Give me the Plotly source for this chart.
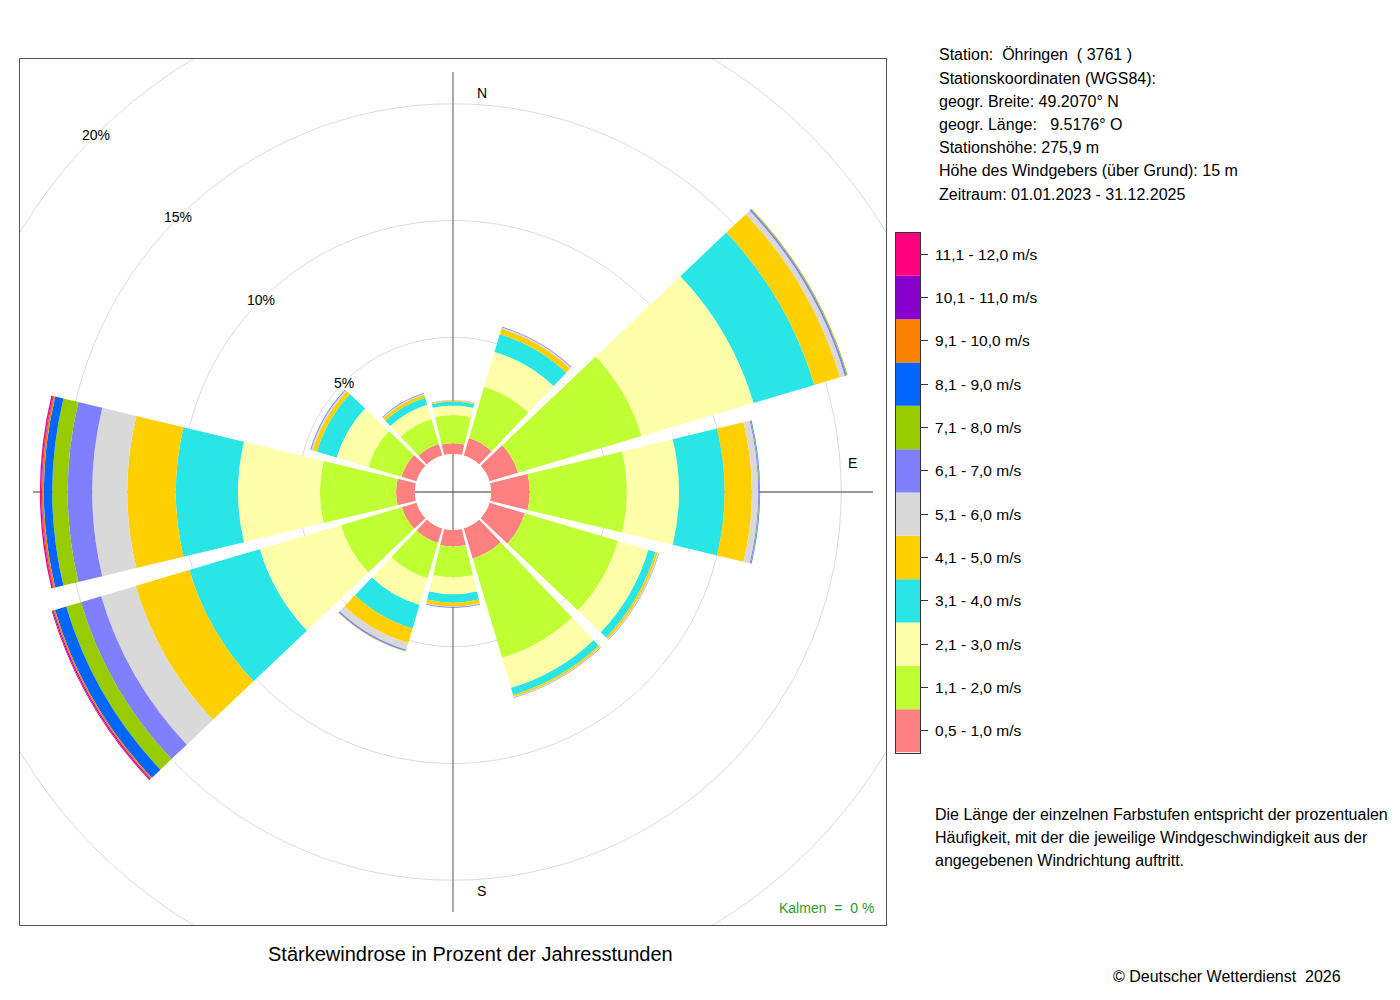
import math
import plotly.graph_objects as go

# ---------------- data ----------------
directions = [0, 30, 60, 90, 120, 150, 180, 210, 240, 270, 300, 330]

speed_labels = ["0,5 - 1,0 m/s", "1,1 - 2,0 m/s", "2,1 - 3,0 m/s", "3,1 - 4,0 m/s",
                "4,1 - 5,0 m/s", "5,1 - 6,0 m/s", "6,1 - 7,0 m/s", "7,1 - 8,0 m/s",
                "8,1 - 9,0 m/s", "9,1 - 10,0 m/s", "10,1 - 11,0 m/s", "11,1 - 12,0 m/s"]

speed_colors = ["#FF8080", "#BFFF33", "#FFFFAA", "#2AE5E5", "#FFD000", "#D9D9D9",
                "#8080FF", "#99CC00", "#0066FF", "#F88200", "#8800CC", "#FF0080"]

# percent of hours per speed class, over the 12 directions (N, 30, 60, ... 330)
v_0_5_1 = [0.46, 0.78, 1.28, 1.66, 1.58, 1.34, 0.71, 0.64, 0.66, 0.81, 0.68, 0.52]
v_1_2 = [1.21, 2.29, 5.52, 4.16, 4.17, 4.44, 1.32, 1.58, 2.72, 3.26, 1.48, 1.11]
v_2_3 = [0.41, 1.56, 5.00, 2.23, 1.35, 1.34, 0.72, 1.20, 3.62, 3.51, 1.41, 0.64]
v_3_4 = [0.17, 0.79, 2.71, 1.95, 0.32, 0.32, 0.36, 1.05, 3.15, 2.66, 0.88, 0.31]
v_4_5 = [0.04, 0.24, 1.15, 1.17, 0.10, 0.08, 0.16, 0.65, 2.40, 2.08, 0.19, 0.14]
v_5_6 = [0.01, 0.06, 0.22, 0.27, 0.04, 0.03, 0.03, 0.30, 1.54, 1.50, 0.07, 0.04]
v_6_7 = [0.01, 0.03, 0.08, 0.04, 0.02, 0.02, 0.04, 0.06, 0.90, 1.05, 0.04, 0.03]
v_7_8 = [0.00, 0.00, 0.04, 0.02, 0.00, 0.00, 0.00, 0.02, 0.66, 0.66, 0.00, 0.00]
v_8_9 = [0.00, 0.00, 0.00, 0.02, 0.00, 0.00, 0.00, 0.00, 0.50, 0.36, 0.00, 0.00]
v_9_10 = [0.00, 0.00, 0.00, 0.00, 0.00, 0.00, 0.00, 0.00, 0.07, 0.08, 0.00, 0.00]
v_10_11 = [0.00, 0.00, 0.00, 0.00, 0.00, 0.00, 0.00, 0.00, 0.04, 0.03, 0.00, 0.00]
v_11_12 = [0.00, 0.00, 0.00, 0.00, 0.00, 0.00, 0.00, 0.00, 0.04, 0.06, 0.00, 0.00]

series = [v_0_5_1, v_1_2, v_2_3, v_3_4, v_4_5, v_5_6, v_6_7, v_7_8,
          v_8_9, v_9_10, v_10_11, v_11_12]

ring_values = [5, 10, 15, 20]
ring_labels = ["5%", "10%", "15%", "20%"]

station_lines = [
    "Station:\u00a0 Öhringen\u00a0 ( 3761 )",
    "Stationskoordinaten (WGS84):",
    "geogr. Breite: 49.2070° N",
    "geogr. Länge:\u00a0\u00a0 9.5176° O",
    "Stationshöhe: 275,9 m",
    "Höhe des Windgebers (über Grund): 15 m",
    "Zeitraum: 01.01.2023 - 31.12.2025",
]
note_lines = [
    "Die Länge der einzelnen Farbstufen entspricht der prozentualen",
    "Häufigkeit, mit der die jeweilige Windgeschwindigkeit aus der",
    "angegebenen Windrichtung auftritt.",
]
calm_text = "Kalmen\u00a0 =\u00a0 0 %"
title_text = "Stärkewindrose in Prozent der Jahresstunden"
copyright_text = "© Deutscher Wetterdienst\u00a0 2026"

# ---------------- geometry ----------------
# the page body has an 8px margin, so the figure is 8px smaller and
# all page positions are shifted by that offset
OX, OY = 8, 8
FW, FH = 1400 - OX, 1000 - OY
FONT = "Liberation Sans, Arial, sans-serif"


def px(x):
    return (x - OX) / FW


def py(y):
    return 1 - (y - OY) / FH


PX_PER_PCT = 23.35
HOLE_PX = 38.0
HALF_PX = 433.0
CX, CY = 453.0, 492.0

R_OUT = HALF_PX / PX_PER_PCT          # cartesian half-range, in percent units
HOLE = HOLE_PX / PX_PER_PCT           # hole radius, percent units
AXLINE = 420.0 / PX_PER_PCT

dom_x = [px(CX - HALF_PX), px(CX + HALF_PX)]
dom_y = [py(CY + HALF_PX), py(CY - HALF_PX)]

fig = go.Figure()

# wind rose bars
for vals, col, lab in zip(series, speed_colors, speed_labels):
    fig.add_trace(go.Barpolar(
        r=vals, theta=directions, width=27, name=lab,
        marker=dict(color=col, line=dict(width=0)),
        subplot="polar", showlegend=False, hoverinfo="skip"))

# invisible trace to hold cartesian frame axes
fig.add_trace(go.Scatter(x=[0], y=[0], mode="markers", marker=dict(opacity=0),
                         xaxis="x", yaxis="y", showlegend=False, hoverinfo="skip"))

# colour legend as stacked bar
fig.add_trace(go.Bar(
    x=[0] * len(speed_labels), y=[1] * len(speed_labels),
    base=list(range(len(speed_labels))), width=1,
    marker=dict(color=speed_colors, line=dict(width=0)),
    xaxis="x2", yaxis="y2", showlegend=False, hoverinfo="skip"))

shapes = []
for p in ring_values:
    rr = p + HOLE
    shapes.append(dict(type="circle", xref="x", yref="y", x0=-rr, x1=rr, y0=-rr, y1=rr,
                       line=dict(color="#DCDCDC", width=1), layer="below"))
shapes.append(dict(type="line", xref="x", yref="y", x0=0, x1=0, y0=-AXLINE, y1=AXLINE,
                   line=dict(color="#8C8C8C", width=1.5), layer="below"))
shapes.append(dict(type="line", xref="x", yref="y", x0=-AXLINE, x1=AXLINE, y0=0, y1=0,
                   line=dict(color="#333333", width=1), layer="below"))

annotations = []
for p, lab in zip(ring_values, ring_labels):
    rr = p + HOLE
    annotations.append(dict(x=-rr * math.sin(math.pi / 4), y=rr * math.cos(math.pi / 4),
                            xref="x", yref="y", text=lab, showarrow=False,
                            font=dict(size=14, color="black", family=FONT)))
LABEL_R = 17.1
LABEL_OFF = 1.23
for (lx, ly, lt) in [(LABEL_OFF, LABEL_R, "N"), (LABEL_R, LABEL_OFF, "E"),
                     (LABEL_OFF, -LABEL_R, "S")]:
    annotations.append(dict(x=lx, y=ly, text=lt, xref="x", yref="y", showarrow=False,
                            font=dict(size=14, color="black", family=FONT)))

for i, line in enumerate(station_lines):
    annotations.append(dict(x=px(937), y=py(55 + i * 23.17), xref="paper", yref="paper",
                            text=line, showarrow=False, xanchor="left", yanchor="middle",
                            font=dict(size=16, color="black", family=FONT)))
for i, line in enumerate(note_lines):
    annotations.append(dict(x=px(933), y=py(814 + i * 23), xref="paper", yref="paper",
                            text=line, showarrow=False, xanchor="left", yanchor="middle",
                            font=dict(size=16, color="black", family=FONT)))
annotations.append(dict(x=px(876), y=py(908), xref="paper", yref="paper", text=calm_text,
                        showarrow=False, xanchor="right", yanchor="middle",
                        font=dict(size=14, color="#2E9B2E", family=FONT)))
annotations.append(dict(x=px(470), y=py(954), xref="paper", yref="paper", text=title_text,
                        showarrow=False, xanchor="center", yanchor="middle",
                        font=dict(size=20, color="black", family=FONT)))
annotations.append(dict(x=px(1343), y=py(976), xref="paper", yref="paper", text=copyright_text,
                        showarrow=False, xanchor="right", yanchor="middle",
                        font=dict(size=16, color="black", family=FONT)))

fig.update_layout(
    width=FW, height=FH, margin=dict(l=0, r=0, t=0, b=0),
    paper_bgcolor="white", plot_bgcolor="rgba(0,0,0,0)",
    showlegend=False, font=dict(family=FONT, color="black"),
    polar=dict(
        domain=dict(x=dom_x, y=dom_y),
        bgcolor="rgba(0,0,0,0)",
        hole=HOLE / R_OUT,
        barmode="stack",
        radialaxis=dict(range=[0, R_OUT - HOLE], visible=False, showgrid=False),
        angularaxis=dict(rotation=90, direction="clockwise", visible=False, showgrid=False),
    ),
    xaxis=dict(domain=dom_x, range=[-R_OUT, R_OUT], showgrid=False, zeroline=False,
               showticklabels=False, ticks="", showline=True, mirror=True,
               linecolor="#555555", linewidth=1, fixedrange=True),
    yaxis=dict(domain=dom_y, range=[-R_OUT, R_OUT], showgrid=False, zeroline=False,
               showticklabels=False, ticks="", showline=True, mirror=True,
               linecolor="#555555", linewidth=1, fixedrange=True),
    xaxis2=dict(domain=[px(896), px(920)], range=[-0.5, 0.5], anchor="y2",
                showgrid=False, zeroline=False, showticklabels=False, ticks="",
                showline=True, mirror=True, linecolor="#333333", linewidth=1, fixedrange=True),
    yaxis2=dict(domain=[py(752.5), py(232.5)], range=[0, len(speed_labels)], anchor="x2",
                side="right", tickvals=[i + 0.5 for i in range(len(speed_labels))],
                ticktext=speed_labels, ticks="outside", ticklen=7, tickcolor="#333333",
                ticklabelstandoff=4,
                showgrid=False, zeroline=False, showline=True, mirror=True,
                linecolor="#333333", linewidth=1, fixedrange=True,
                tickfont=dict(size=15.5, color="black", family=FONT)),
    shapes=shapes,
    annotations=annotations,
)

fig.write_html("out.html")
